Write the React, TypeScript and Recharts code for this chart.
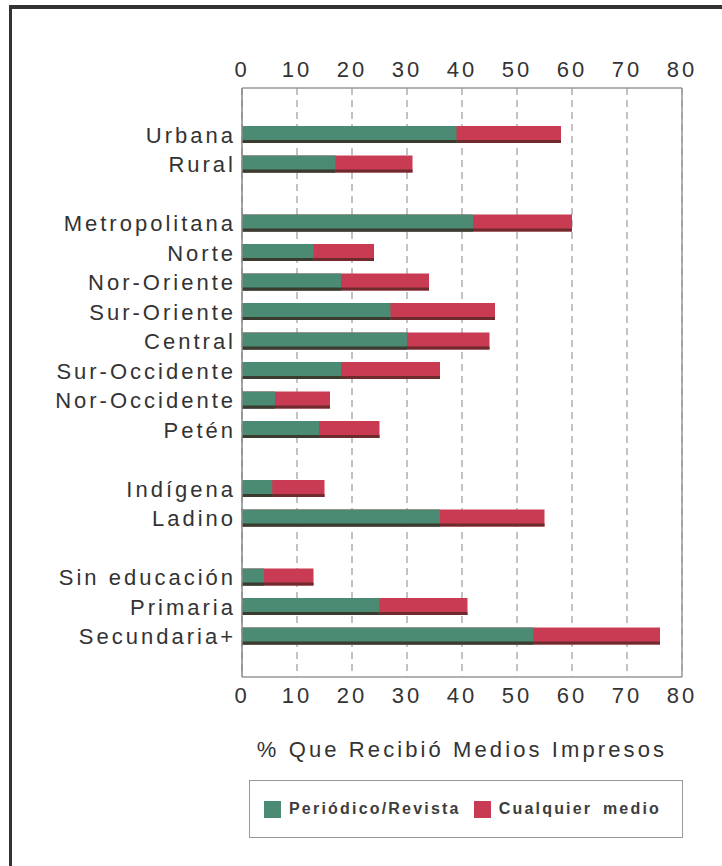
import { BarChart, Bar, XAxis, YAxis, CartesianGrid, ReferenceLine } from "recharts";

const categories = [
  "Urbana",
  "Rural",
  " ",
  "Metropolitana",
  "Norte",
  "Nor-Oriente",
  "Sur-Oriente",
  "Central",
  "Sur-Occidente",
  "Nor-Occidente",
  "Petén",
  "  ",
  "Indígena",
  "Ladino",
  "   ",
  "Sin educación",
  "Primaria",
  "Secundaria+",
];

// % que recibió medios impresos
const periodicoRevista = [39, 17, null, 42, 13, 18, 27, 30, 18, 6, 14, null, 5.5, 36, null, 4, 25, 53];
const cualquierMedio = [58, 31, null, 60, 24, 34, 46, 45, 36, 16, 25, null, 15, 55, null, 13, 41, 76];

const xTicks = [0, 10, 20, 30, 40, 50, 60, 70, 80];

const seriesNames = ["Periódico/Revista", "Cualquier medio"];
const GREEN = "#4b8b73";
const RED = "#c93a53";

const data = categories.map((name, i) => ({
  name,
  periodico: periodicoRevista[i],
  cualquier: cualquierMedio[i],
}));

const FONT = "'Liberation Sans', Arial, Helvetica, sans-serif";
const tickStyle = { fontSize: 22, fill: "#333", fontFamily: FONT, letterSpacing: 3 };
const BAR = 17;

// bar with a dark strip along its lower edge, like the printed original
const edgedBar = (edge: string) => (p: any) => {
  const { x, y, width, height, fill } = p;
  if (!width || width <= 0) return <g />;
  return (
    <g>
      <rect x={x} y={y} width={width} height={height} fill={fill} />
      <rect x={x} y={y + height - 3} width={width} height={3} fill={edge} />
    </g>
  );
};

const LegendBox = () => (
  <div
    style={{
      position: "absolute",
      left: 249,
      top: 780,
      boxSizing: "border-box",
      width: 434,
      height: 58,
      border: "1.5px solid #999",
      display: "flex",
      alignItems: "center",
      paddingLeft: 14,
      fontFamily: FONT,
      fontSize: 16,
      fontWeight: "bold",
      letterSpacing: 2.2,
      wordSpacing: 4,
      color: "#3d3d3d",
    }}
  >
    <span style={{ width: 17, height: 17, background: GREEN, display: "inline-block", marginRight: 8 }} />
    <span style={{ marginRight: 13 }}>{seriesNames[0]}</span>
    <span style={{ width: 17, height: 17, background: RED, display: "inline-block", marginRight: 8 }} />
    <span>{seriesNames[1]}</span>
  </div>
);

export default function App() {
  return (
    <div style={{ position: "absolute", left: 0, top: 0, width: 722, height: 866, background: "#fff" }}>
      <div
        style={{
          position: "absolute",
          left: 9,
          top: 5,
          width: 713,
          height: 861,
          borderLeft: "3px solid #333",
          borderTop: "4px solid #333",
        }}
      />
      <div style={{ position: "absolute", left: 0, top: 0 }}>
        <BarChart
          width={722}
          height={866}
          data={data}
          layout="vertical"
          margin={{ top: 0, right: 40, bottom: 149, left: 12 }}
          barGap={-BAR}
        >
          <CartesianGrid
            xAxisId="bottom"
            horizontal={false}
            stroke="#9a9a9a"
            strokeDasharray="7 5"
            strokeWidth={1.2}
          />
          <XAxis
            xAxisId="top"
            orientation="top"
            type="number"
            domain={[0, 80]}
            ticks={xTicks}
            height={88}
            tickSize={0}
            tickMargin={11}
            tick={tickStyle}
            axisLine={{ stroke: "#999", strokeWidth: 1.5 }}
          />
          <XAxis
            xAxisId="bottom"
            type="number"
            domain={[0, 80]}
            ticks={xTicks}
            height={40}
            tickSize={0}
            tickMargin={10}
            tick={tickStyle}
            axisLine={{ stroke: "#999", strokeWidth: 1.5 }}
            label={{
              value: "% Que Recibió Medios Impresos",
              position: "bottom",
              offset: 24,
              style: { fontSize: 22, fill: "#333", fontFamily: FONT, letterSpacing: 3.1 },
            }}
          />
          <YAxis
            type="category"
            dataKey="name"
            width={230}
            interval={0}
            tickSize={0}
            tickMargin={6}
            tick={tickStyle}
            padding={{ top: 32, bottom: 26 }}
            axisLine={{ stroke: "#888", strokeWidth: 1.5 }}
          />
          <ReferenceLine xAxisId="bottom" x={80} stroke="#999" strokeWidth={1.5} />
          <Bar
            xAxisId="bottom"
            dataKey="cualquier"
            name={seriesNames[1]}
            fill={RED}
            barSize={BAR}
            isAnimationActive={false}
            shape={edgedBar("#6e2a2c")}
          />
          <Bar
            xAxisId="top"
            dataKey="periodico"
            name={seriesNames[0]}
            fill={GREEN}
            barSize={BAR}
            isAnimationActive={false}
            shape={edgedBar("#3b3b30")}
          />
        </BarChart>
      </div>
      <LegendBox />
    </div>
  );
}
